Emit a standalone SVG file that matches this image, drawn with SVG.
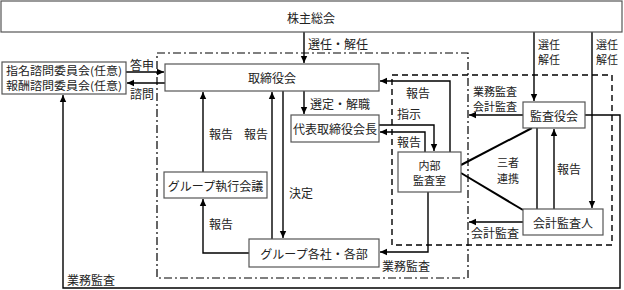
<svg xmlns="http://www.w3.org/2000/svg" width="624" height="290" viewBox="0 0 624 290">
<defs>
<style>
.box{fill:#fff;stroke:#555;stroke-width:1.2}
.t{font-family:"Noto Sans CJK JP","Noto Sans CJK SC",sans-serif;font-size:12px;fill:#222;dominant-baseline:central}
.s{font-size:11px}
.m{text-anchor:middle}
.ln{fill:none;stroke:#000;stroke-width:1.4}
.thick{fill:none;stroke:#000;stroke-width:2}
.dd{fill:none;stroke:#000;stroke-width:1.2;stroke-dasharray:8 3 2 3}
.ds{fill:none;stroke:#000;stroke-width:1.4;stroke-dasharray:6 4}
</style>
<marker id="ah" markerWidth="8" markerHeight="8" refX="7" refY="4" orient="auto" markerUnits="userSpaceOnUse">
<path d="M0,0.8 L7,4 L0,7.2 Z" fill="#000"/>
</marker>
</defs>

<g id="frames">
<rect class="dd" x="157" y="53" width="311" height="225"/>
<rect class="ds" x="392" y="75" width="220" height="170"/>
</g>

<g id="connectors">
<path class="ln" d="M304,32 V63" marker-end="url(#ah)"/>
<path class="ln" d="M534,32 V101" marker-end="url(#ah)"/>
<path class="ln" d="M592,32 V208" marker-end="url(#ah)"/>
<path class="ln" d="M126,72 H164" marker-end="url(#ah)"/>
<path class="ln" d="M165,83 H127" marker-end="url(#ah)"/>
<path class="ln" d="M304,91 V114" marker-end="url(#ah)"/>
<path class="ln" d="M203,172 V92" marker-end="url(#ah)"/>
<path class="ln" d="M272,239 V92" marker-end="url(#ah)"/>
<path class="ln" d="M283,91 V238" marker-end="url(#ah)"/>
<path class="ln" d="M249,253 H203 V199" marker-end="url(#ah)"/>
<path class="ln" d="M379,125 H434 V151" marker-end="url(#ah)"/>
<path class="ln" d="M425,152 V132 H380" marker-end="url(#ah)"/>
<path class="ln" d="M450,152 V81 H380" marker-end="url(#ah)"/>
<path class="ln" d="M428,192 V252 H380" marker-end="url(#ah)"/>
<path class="ln" d="M523,115 H469" marker-end="url(#ah)"/>
<path class="ln" d="M523,222 H469" marker-end="url(#ah)"/>
<path class="ln" d="M554,209 V129" marker-end="url(#ah)"/>
<path class="ln" d="M537,128 V209"/>
<path class="thick" d="M461,165 L532,128"/>
<path class="thick" d="M461,173 L523,210"/>
<path class="ln" d="M585,115 H620 V288 H63 V95" marker-end="url(#ah)"/>
</g>

<g id="labels">
<text class="t" x="308" y="43">選任・解任</text>
<text class="t s" x="538" y="44">選任</text>
<text class="t s" x="538" y="59">解任</text>
<text class="t s" x="596" y="44">選任</text>
<text class="t s" x="596" y="59">解任</text>
<text class="t m" x="142" y="64">答申</text>
<text class="t m" x="142" y="93">諮問</text>
<text class="t" x="310" y="103">選定・解職</text>
<text class="t m" x="221" y="133">報告</text>
<text class="t m" x="256" y="133">報告</text>
<text class="t" x="289" y="192">決定</text>
<text class="t m" x="221" y="223">報告</text>
<text class="t" x="382" y="265">業務監査</text>
<text class="t m" x="418" y="92">報告</text>
<text class="t m" x="409" y="113">指示</text>
<text class="t m" x="409" y="141">報告</text>
<text class="t s m" x="495" y="91">業務監査</text>
<text class="t s m" x="495" y="106">会計監査</text>
<text class="t s m" x="508" y="162">三者</text>
<text class="t s m" x="508" y="178">連携</text>
<text class="t m" x="569" y="168">報告</text>
<text class="t m" x="495" y="232">会計監査</text>
<text class="t" x="67" y="279">業務監査</text>
</g>

<g id="n-kabunushi">
<rect class="box" x="1" y="1" width="621" height="31"/>
<text class="t m" x="311" y="17">株主総会</text>
</g>
<g id="n-shimei">
<rect class="box" x="2" y="62" width="124" height="32"/>
<text class="t s m" x="64" y="70" textLength="116" lengthAdjust="spacingAndGlyphs">指名諮問委員会(任意)</text>
<text class="t s m" x="64" y="85" textLength="116" lengthAdjust="spacingAndGlyphs">報酬諮問委員会(任意)</text>
</g>
<g id="n-torishimariyakukai">
<rect class="box" x="165" y="64" width="214" height="27"/>
<text class="t m" x="272" y="77">取締役会</text>
</g>
<g id="n-daihyo">
<rect class="box" x="291" y="115" width="88" height="27"/>
<text class="t m" x="335" y="128.5">代表取締役会長</text>
</g>
<g id="n-shikkou">
<rect class="box" x="164" y="172" width="103" height="26"/>
<text class="t m" x="215.5" y="185">グループ執行会議</text>
</g>
<g id="n-kakusha">
<rect class="box" x="249" y="239" width="130" height="28"/>
<text class="t m" x="314" y="253">グループ各社・各部</text>
</g>
<g id="n-naibu">
<rect class="box" x="398" y="152" width="63" height="40"/>
<text class="t s m" x="429.5" y="165">内部</text>
<text class="t s m" x="429.5" y="180">監査室</text>
</g>
<g id="n-kansayakukai">
<rect class="box" x="523" y="102" width="62" height="26"/>
<text class="t m" x="554" y="115">監査役会</text>
</g>
<g id="n-kaikei">
<rect class="box" x="523" y="209" width="80" height="26"/>
<text class="t m" x="563" y="222">会計監査人</text>
</g>
</svg>
